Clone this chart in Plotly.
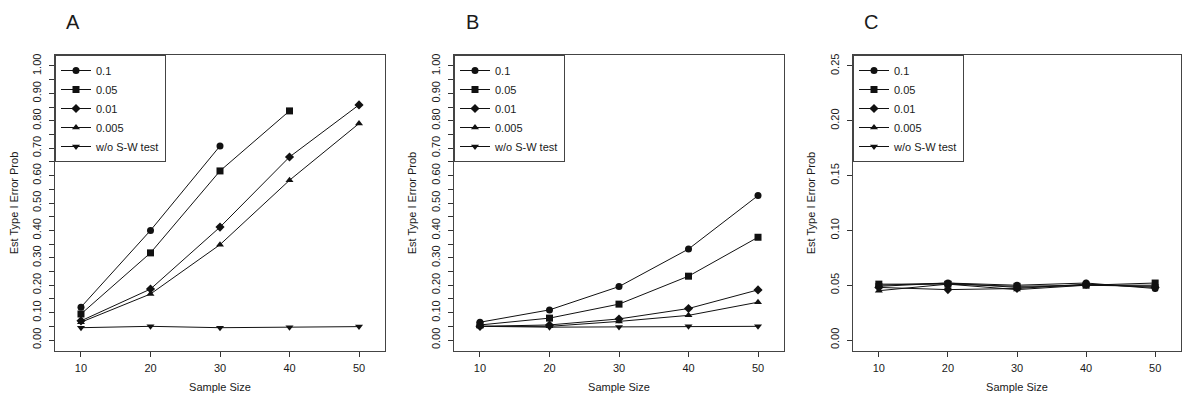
import plotly.graph_objects as go

sample_size = [10, 20, 30, 40, 50]
series_names = ["0.1", "0.05", "0.01", "0.005", "w/o S-W test"]

# Panel A
a_01 = [0.12, 0.40, 0.708, None, None]
a_005 = [0.095, 0.318, 0.617, 0.836, None]
a_001 = [0.07, 0.186, 0.412, 0.668, 0.858]
a_0005 = [0.065, 0.168, 0.348, 0.583, 0.79]
a_wo = [0.045, 0.05, 0.045, 0.047, 0.049]

# Panel B
b_01 = [0.065, 0.11, 0.195, 0.332, 0.527]
b_005 = [0.055, 0.08, 0.131, 0.233, 0.375]
b_001 = [0.05, 0.055, 0.077, 0.115, 0.183]
b_0005 = [0.05, 0.05, 0.068, 0.09, 0.138]
b_wo = [0.05, 0.047, 0.048, 0.05, 0.05]

# Panel C
c_01 = [0.049, 0.052, 0.050, 0.052, 0.047]
c_005 = [0.051, 0.051, 0.049, 0.050, 0.052]
c_001 = [0.048, 0.046, 0.047, 0.051, 0.048]
c_0005 = [0.045, 0.051, 0.046, 0.050, 0.050]
c_wo = [0.050, 0.052, 0.048, 0.050, 0.049]

panel_letters = ["A", "B", "C"]
ab_ticks = [round(i * 0.05, 2) for i in range(21)]
ab_text = [f"{v:.2f}" if i % 2 == 0 else "" for i, v in enumerate(ab_ticks)]
c_ticks = [0.0, 0.05, 0.10, 0.15, 0.20, 0.25]
c_text = ["0.00", "0.05", "0.10", "0.15", "0.20", "0.25"]

symbols = ["circle", "square", "diamond", "triangle-up", "triangle-down"]
panels = [
    [a_01, a_005, a_001, a_0005, a_wo],
    [b_01, b_005, b_001, b_0005, b_wo],
    [c_01, c_005, c_001, c_0005, c_wo],
]

W, H = 1200, 406
x_dom = [(47, 377), (446, 776), (845, 1173)]
top, bottom = 47, 343
y_dom = [(H - bottom) / H, (H - top) / H]

FONT = "Liberation Sans, Arial, sans-serif"
TXT = "#1a1a1a"

fig = go.Figure()
for p, data in enumerate(panels):
    xa = "x" if p == 0 else f"x{p+1}"
    ya = "y" if p == 0 else f"y{p+1}"
    lg = "legend" if p == 0 else f"legend{p+1}"
    for s, vals in enumerate(data):
        fig.add_trace(go.Scatter(
            x=sample_size, y=vals, name=series_names[s],
            mode="lines+markers", xaxis=xa, yaxis=ya, legend=lg,
            line=dict(color="#111111", width=1),
            marker=dict(symbol=symbols[s], size=7, color="#111111"),
            connectgaps=False,
        ))

layout = dict(
    template="none",
    width=W, height=H,
    margin=dict(l=0, r=0, t=0, b=0),
    paper_bgcolor="white", plot_bgcolor="white",
    font=dict(family=FONT, size=11, color=TXT),
    annotations=[],
)
for p in range(3):
    sx = "" if p == 0 else str(p + 1)
    d0, d1 = x_dom[p]
    if p < 2:
        yr = [-0.04, 1.04]
        tv, tt = ab_ticks, ab_text
    else:
        yr = [-0.01, 0.26]
        tv, tt = c_ticks, c_text
    layout["xaxis" + sx] = dict(
        domain=[d0 / W, d1 / W], anchor="y" + sx, range=[6.26, 53.74],
        tickvals=sample_size, ticktext=[str(v) for v in sample_size],
        ticks="outside", ticklen=5, tickcolor="#333", showgrid=False,
        zeroline=False, showline=True, mirror=True, linecolor="#444", linewidth=1,
        title=dict(text="Sample Size", standoff=10, font=dict(size=11, color=TXT)),
        tickfont=dict(size=11, color=TXT), ticklabelstandoff=2,
    )
    layout["yaxis" + sx] = dict(
        domain=y_dom, anchor="x" + sx, range=yr,
        tickvals=tv, ticktext=tt, tickangle=-90,
        ticks="outside", ticklen=5, tickcolor="#333", showgrid=False,
        zeroline=False, showline=True, mirror=True, linecolor="#444", linewidth=1,
        title=dict(text="Est Type I Error Prob", standoff=10, font=dict(size=11, color=TXT)),
        tickfont=dict(size=11, color=TXT), ticklabelstandoff=4,
    )
    layout["legend" + sx] = dict(
        x=d0 / W, y=y_dom[1], xanchor="left", yanchor="top",
        bordercolor="#444", borderwidth=1, bgcolor="white",
        font=dict(size=11, color=TXT), tracegroupgap=0,
    )
    layout["annotations"].append(dict(
        text=panel_letters[p], x=(d0 + 18) / W, y=(H - 14) / H,
        xref="paper", yref="paper", showarrow=False,
        font=dict(size=20, color=TXT), xanchor="center", yanchor="middle",
    ))

fig.update_layout(**layout)
fig.write_html("out.html")
